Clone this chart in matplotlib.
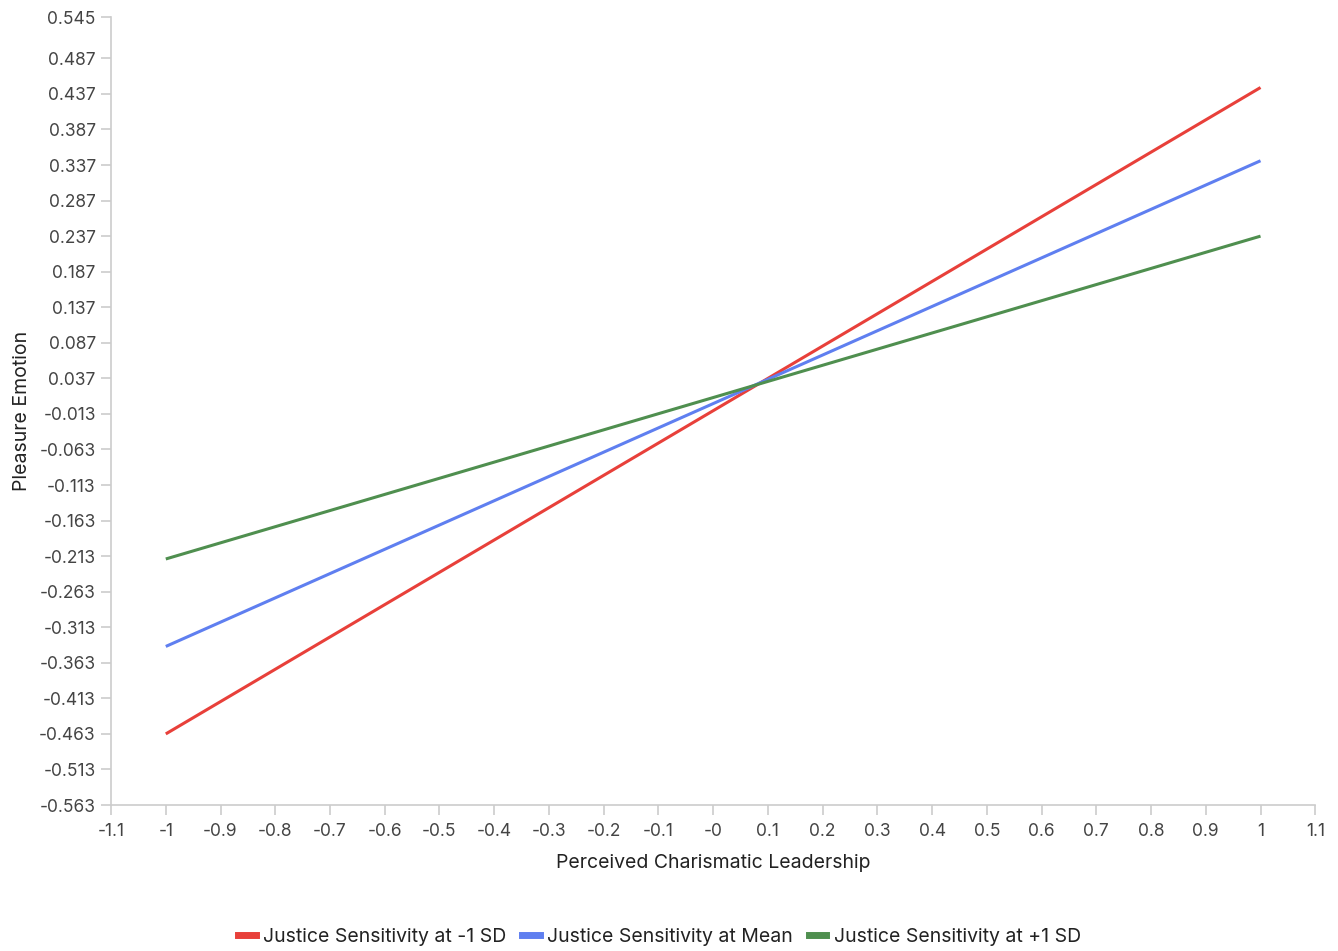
import numpy as np
import matplotlib.pyplot as plt

# simple slopes of pleasure emotion at three levels of justice sensitivity
x_points = [-1, 1]
low_sd = [-0.463, 0.446]
mean_js = [-0.340, 0.343]
high_sd = [-0.217, 0.237]

series_names = ["Justice Sensitivity at -1 SD",
                "Justice Sensitivity at Mean",
                "Justice Sensitivity at +1 SD"]
series_colors = ["#e8403a", "#5f7ff0", "#4f8f4f"]

y_ticks = [0.545, 0.487, 0.437, 0.387, 0.337, 0.287, 0.237, 0.187, 0.137,
           0.087, 0.037, -0.013, -0.063, -0.113, -0.163, -0.213, -0.263,
           -0.313, -0.363, -0.413, -0.463, -0.513, -0.563]
x_ticks = [-1.1, -1, -0.9, -0.8, -0.7, -0.6, -0.5, -0.4, -0.3, -0.2, -0.1,
           0, 0.1, 0.2, 0.3, 0.4, 0.5, 0.6, 0.7, 0.8, 0.9, 1, 1.1]
x_labels = ["-1.1", "-1", "-0.9", "-0.8", "-0.7", "-0.6", "-0.5", "-0.4",
            "-0.3", "-0.2", "-0.1", "-0", "0.1", "0.2", "0.3", "0.4", "0.5",
            "0.6", "0.7", "0.8", "0.9", "1", "1.1"]

plt.rcParams['font.family'] = ['Inter', 'DejaVu Sans']

fig = plt.figure(figsize=(13.38, 9.51), dpi=100)
ax = fig.add_axes([0.083, 0.1535, 0.9, 0.8285])

for ys, name, col in zip([low_sd, mean_js, high_sd], series_names, series_colors):
    ax.plot(x_points, ys, color=col, linewidth=2.2, label=name,
            solid_capstyle='butt')

ax.set_xlim(-1.1, 1.1)
ax.set_ylim(-0.563, 0.545)
ax.set_yticks(y_ticks)
ax.set_yticklabels([f"{v:.3f}" for v in y_ticks])
ax.set_xticks(x_ticks)
ax.set_xticklabels(x_labels)

for side in ['top', 'right']:
    ax.spines[side].set_visible(False)
for side in ['left', 'bottom']:
    ax.spines[side].set_color('#cccccc')
    ax.spines[side].set_linewidth(1.2)

ax.tick_params(axis='both', colors='#cccccc', labelcolor='#444444',
               labelsize=12.5, length=7, width=1.2)
ax.tick_params(axis='x', pad=6)
ax.tick_params(axis='y', pad=4)

ax.set_xlabel("Perceived Charismatic Leadership", fontsize=14, color='#222222',
              labelpad=10)
ax.set_ylabel("Pleasure Emotion", fontsize=14, color='#222222', labelpad=6)

handles = [plt.Line2D([], [], color=c, linewidth=5) for c in series_colors]
fig.legend(handles, series_names, loc='center', bbox_to_anchor=(0.493, 0.015),
           ncol=3, frameon=False, fontsize=14, handlelength=0.9,
           handletextpad=0.4, columnspacing=0.8, labelcolor='#222222')

fig.savefig("out.png", dpi=100, facecolor='white')
